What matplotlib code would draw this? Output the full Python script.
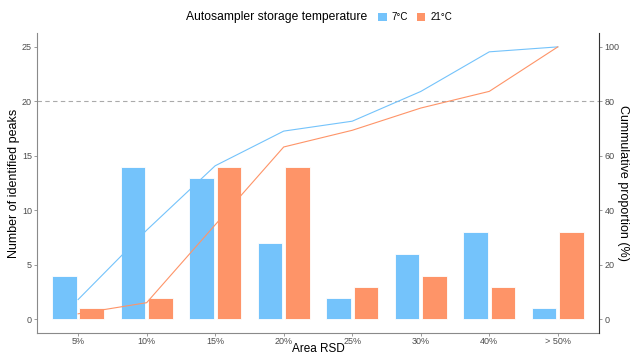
import numpy as np
import matplotlib
matplotlib.use("Agg")
import matplotlib.pyplot as plt
from matplotlib.patches import Patch
from matplotlib.offsetbox import HPacker

plt.rcParams['font.family'] = ['Liberation Sans', 'DejaVu Sans']

categories = ["5%", "10%", "15%", "20%", "25%", "30%", "40%", "> 50%"]
peaks_7c = [4, 14, 13, 7, 2, 6, 8, 1]
peaks_21c = [1, 2, 14, 14, 3, 4, 3, 8]
series_labels = ["7°C", "21°C"]
colors = ["#74C3FB", "#FE9468"]

x = np.arange(len(categories))
fig = plt.figure(figsize=(6.3, 3.56), dpi=100)
ax = fig.add_axes([0.0587, 0.0646, 0.892, 0.842])

bar_w = 0.36
offset = 0.2
for vals, dx, c in zip([peaks_7c, peaks_21c], [-offset, offset], colors):
    ax.bar(x + dx, vals, width=bar_w, color=c, edgecolor="white", linewidth=0.6, zorder=2)

# cumulative proportion lines share the bar axis: 100 % corresponds to 25 peaks
scale = 25 / 100
for vals, c in zip([peaks_7c, peaks_21c], colors):
    v = np.asarray(vals, dtype=float)
    cum = np.cumsum(v) / v.sum() * 100
    ax.plot(x, cum * scale, color=c, linewidth=0.8, zorder=3)

ax.axhline(20, color="#AAAAAA", linestyle=(0, (4, 3)), linewidth=0.8, zorder=1)

ax.set_xlim(-0.6, len(categories) - 1 + 0.6)
ax.set_ylim(-1.25, 26.25)
ax.set_xticks(x)
ax.set_xticklabels(categories)
ax.set_yticks([0, 5, 10, 15, 20, 25])

for side in ["top", "right"]:
    ax.spines[side].set_visible(False)
for side in ["left", "bottom"]:
    ax.spines[side].set_color("#8A8A8A")
    ax.spines[side].set_linewidth(0.8)
ax.tick_params(axis="both", colors="#8A8A8A", labelcolor="#4D4D4D", labelsize=6.5,
               length=2.5, width=0.6, pad=1.2)
ax.tick_params(axis="x", pad=0.6)
ax.set_xlabel("Area RSD", fontsize=8.5)
ax.set_ylabel("Number of identified peaks", fontsize=9)
ax.xaxis.set_label_coords(0.5, -0.034)
ax.yaxis.set_label_coords(-0.030, 0.5)

ax2 = ax.twinx()
ax2.set_ylim(-1.25 / scale, 26.25 / scale)
ax2.set_yticks([0, 20, 40, 60, 80, 100])
for side in ["top", "left", "bottom"]:
    ax2.spines[side].set_visible(False)
ax2.spines["right"].set_color("#333333")
ax2.spines["right"].set_linewidth(0.8)
ax2.tick_params(axis="y", colors="#8A8A8A", labelcolor="#4D4D4D", labelsize=6.5,
                length=2.5, width=0.6, pad=1.5)
ax2.set_ylabel("Cummulative proportion (%)", fontsize=9, rotation=-90, va="center")
ax2.yaxis.set_label_coords(1.042, 0.5)

handles = [Patch(facecolor=c, edgecolor="none") for c in colors]
leg = fig.legend(handles, series_labels, title="Autosampler storage temperature",
                 loc="center", bbox_to_anchor=(0.506, 0.952), ncol=2, frameon=False,
                 fontsize=7, title_fontsize=8.7, handlelength=0.9, handleheight=0.9,
                 handletextpad=0.5, columnspacing=0.9, borderaxespad=0.0, borderpad=0.0)
# put the title on the same row as the keys
box = leg._legend_box
box._children = [HPacker(pad=0, sep=8, align="center", children=box.get_children())]

fig.savefig("out.png", dpi=100)
